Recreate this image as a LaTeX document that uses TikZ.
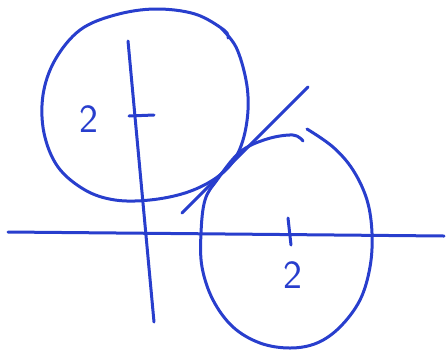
\documentclass[tikz,border=0pt]{standalone}
\usepackage{tikz}
\usetikzlibrary{positioning}
\usepackage{xcolor}
\definecolor{penblue}{RGB}{40,62,205}

\begin{document}
\begin{tikzpicture}[x=1pt,y=-1pt,
  pen/.style={draw=penblue,line width=3pt,line cap=round,line join=round},
  digit/.style={text=penblue,font=\sffamily\fontsize{40}{40}\selectfont,inner sep=0pt}]
\useasboundingbox (0,0) rectangle (446,349);
% axes
\coordinate (xl) at (8,232);
\coordinate (xr) at (444,236);
\coordinate (yt) at (128,41);
\coordinate (yb) at (154,322);
\draw[pen] (xl) -- (xr);
\draw[pen] (yt) -- (yb);
% ticks
\coordinate (ta) at (129,116);
\coordinate (tb) at (154,115);
\draw[pen] (ta) -- (tb);
\coordinate (tc) at (288,218);
\coordinate (td) at (291,245);
\draw[pen] (tc) -- (td);
\node[digit] (lblleft) at (89,119) {2};
\node[digit] (lblbottom) at (293,275) {2};
% upper circle
\draw[pen] plot[smooth,tension=0.6] coordinates {
  (220,27) (236,47) (246,80) (248,110) (243,140) (232,163) (213,180)
  (185,193) (150,200) (115,200) (85,190) (58,167) (44,133) (43,95)
  (55,60) (80,30) (115,15) (155,9) (195,14) (224,30) (228,38)};
% lower circle
\draw[pen] plot[smooth,tension=0.6] coordinates {
  (307,129) (333,147) (353,170) (367,200) (372,233) (370,267) (360,300)
  (340,327) (317,343) (290,348) (260,343) (233,327) (213,300) (202,267)
  (201,233) (205,200) (217,180) (240,152) (267,139) (293,135) (303,141)};
% tangent line
\coordinate (tl) at (182,213);
\coordinate (tr) at (308,87);
\draw[pen] (tl) -- (tr);
\end{tikzpicture}
\end{document}
